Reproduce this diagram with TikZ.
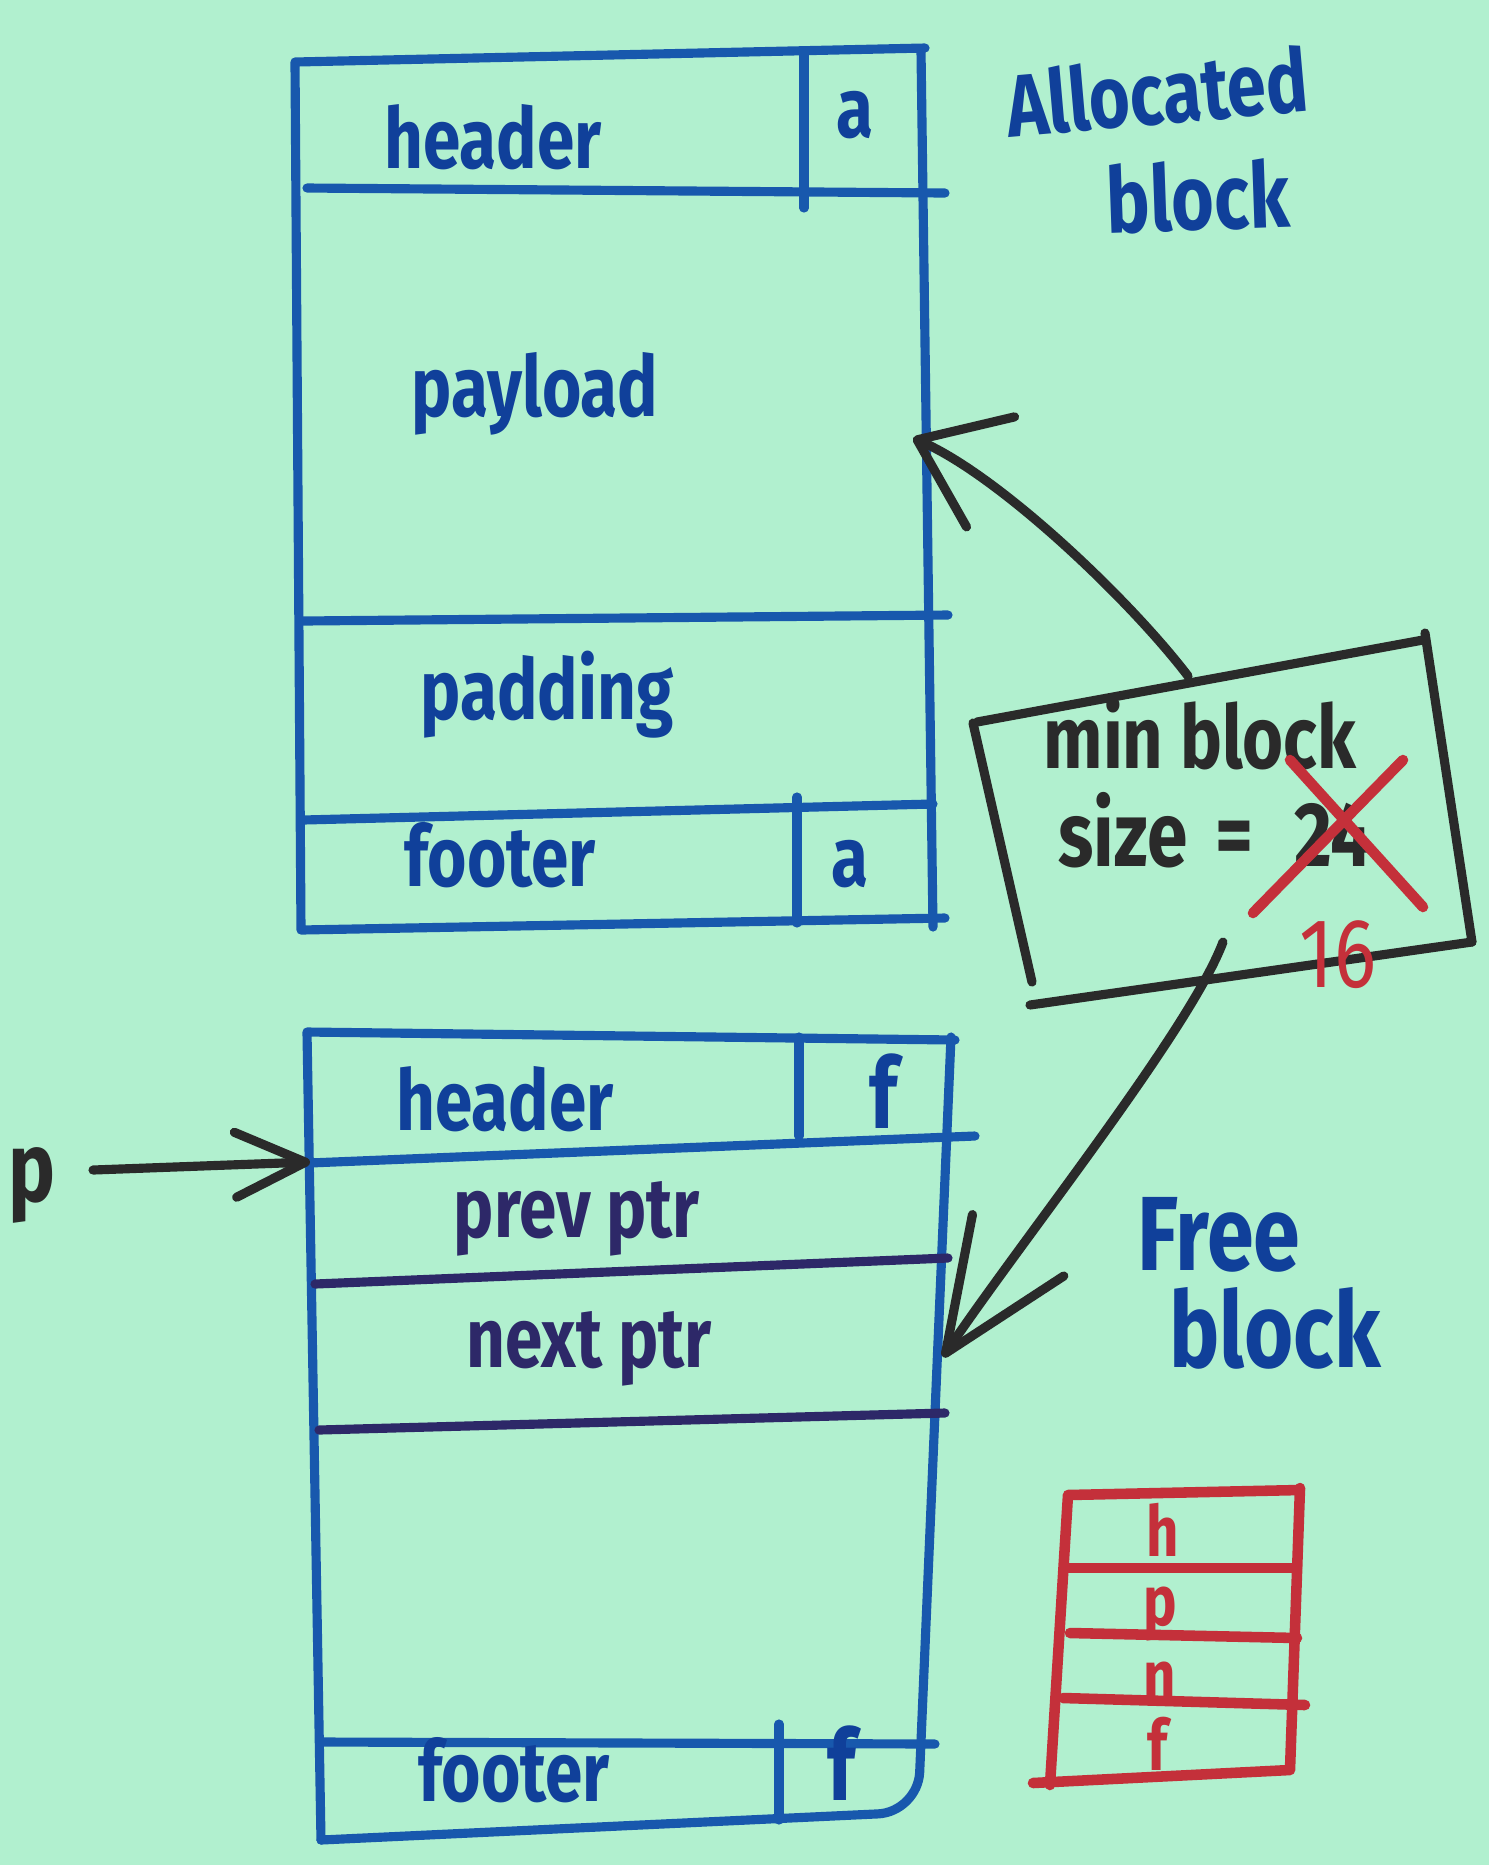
\documentclass[tikz,border=0pt]{standalone}
\usepackage{fontspec}
\setmainfont{Fira Sans}[FakeStretch=0.8]
\usetikzlibrary{arrows.meta}
\definecolor{paper}{HTML}{B1F0CF}
\definecolor{inkblue}{HTML}{1858AD}
\definecolor{textblue}{HTML}{10409A}
\definecolor{inkpurple}{HTML}{2D2868}
\definecolor{inkblack}{HTML}{2A2A2A}
\definecolor{inkred}{HTML}{C4303A}

\begin{document}
\begin{tikzpicture}[x=0.01cm,y=-0.01cm]
\tikzset{
  blockline/.style={draw=inkblue,line width=2.6pt,line cap=round,line join=round},
  ptrline/.style={draw=inkpurple,line width=2.6pt,line cap=round},
  boxline/.style={draw=inkblack,line width=2.6pt,line cap=round,line join=round},
  redline/.style={draw=inkred,line width=3pt,line cap=round,line join=round},
  handtext/.style={anchor=base,inner sep=0pt,font=\bfseries\fontsize{24}{26}\selectfont},
  bluetext/.style={handtext,text=textblue},
  bigtext/.style={bluetext,font=\bfseries\fontsize{30}{32}\selectfont},
  flagtext/.style={bluetext,font=\bfseries\fontsize{28}{30}\selectfont},
  ptrtext/.style={handtext,text=inkpurple},
  blacktext/.style={handtext,text=inkblack},
  redtext/.style={handtext,text=inkred,font=\bfseries\fontsize{20}{22}\selectfont},
  pointer/.style={boxline,fill=none}
}
\fill[paper] (0,0) rectangle (1489,1865);

\draw[blockline] (925,48) -- (295,62) -- (301,930) -- (945,918);
\draw[blockline] (921,50) -- (933,927);
\draw[blockline] (307,188) -- (945,193);
\draw[blockline] (804,54) -- (804,208);
\draw[blockline] (303,621) -- (948,615);
\draw[blockline] (303,820) -- (933,804);
\draw[blockline] (797,797) -- (797,923);
\node[bluetext] (a_header) at (493,168) {header};
\node[bluetext] (a_hflag) at (855,137) {a};
\node[bluetext] (a_payload) at (535,416) {payload};
\node[bluetext] (a_padding) at (547,719) {padding};
\node[bluetext] (a_footer) at (500,886) {footer};
\node[bluetext] (a_fflag) at (850,886) {a};
\node[bluetext,font=\bfseries\fontsize{25}{27}\selectfont,rotate=5] (l_alloc) at (1160,124) {Allocated};
\node[bluetext,font=\bfseries\fontsize{26}{28}\selectfont,rotate=2] (l_ablock) at (1199,230) {block};

\draw[blockline] (955,1040) -- (307,1032) -- (321,1840);
\draw[blockline,rounded corners=4mm] (951,1037) -- (918,1812) -- (321,1840);
\draw[blockline] (309,1163) -- (975,1136);
\draw[blockline] (799,1037) -- (799,1136);
\draw[ptrline] (315,1284) -- (948,1258);
\draw[ptrline] (319,1430) -- (945,1413);
\draw[blockline] (321,1742) -- (935,1744);
\draw[blockline] (779,1724) -- (779,1820);
\node[bluetext] (f_header) at (505,1130) {header};
\node[flagtext] (f_hflag) at (884,1128) {f};
\node[ptrtext] (f_prev) at (577,1237) {prev ptr};
\node[ptrtext] (f_next) at (589,1367) {next ptr};
\node[bluetext] (f_footer) at (514,1801) {footer};
\node[flagtext] (f_fflag) at (842,1800) {f};
\node[bigtext] (l_free) at (1219,1270) {Free};
\node[bigtext] (l_fblock) at (1275,1367) {block};

\node[blacktext,font=\bfseries\fontsize{28}{30}\selectfont] (p_label) at (32,1201) {p};
\coordinate (p_tail) at (93,1170);
\coordinate (f_hdrleft) at (310,1162);
\draw[pointer,-{Straight Barb[length=7mm,width=6.5mm,round]}] (p_tail) -- (f_hdrleft);

\draw[boxline] (977,722) -- (1423,640);
\draw[boxline] (1425,633) -- (1472,942);
\draw[boxline] (1472,942) -- (1030,1005);
\draw[boxline] (973,723) -- (1032,982);
\node[blacktext,font=\bfseries\fontsize{25}{27}\selectfont] (minblock) at (1200,768) {min block};
\node[blacktext,font=\bfseries\fontsize{26}{28}\selectfont] (minsize) at (1215,866) {size\hspace{0.3em}=\hspace{0.45em}24};
\draw[redline] (1290,760) -- (1423,907);
\draw[redline] (1403,760) -- (1253,913);
\node[redtext,font=\fontsize{28}{30}\selectfont] (newsize) at (1338,987) {16};

\coordinate (box_top) at (1188,676);
\coordinate (box_bottom) at (1223,942);
\coordinate (a_payloadright) at (913,438);
\coordinate (f_nextright) at (943,1357);
\draw[pointer,-{Straight Barb[length=8mm,width=12mm,round]}] (box_top) .. controls (1130,600) and (1000,476) .. (a_payloadright);
\draw[pointer,-{Straight Barb[length=13mm,width=11mm,round]}] (box_bottom) .. controls (1190,1030) and (1021,1241) .. (f_nextright);

\draw[redline] (1300,1490) -- (1068,1495) -- (1050,1785);
\draw[redline] (1300,1488) -- (1290,1770) -- (1033,1783);
\draw[redline] (1068,1568) -- (1297,1568);
\draw[redline] (1070,1633) -- (1297,1638);
\draw[redline] (1063,1698) -- (1305,1705);
\node[redtext] (r_h) at (1163,1556) {h};
\node[redtext] (r_p) at (1160,1625) {p};
\node[redtext] (r_n) at (1160,1700) {n};
\node[redtext] (r_f) at (1158,1770) {f};
\end{tikzpicture}
\end{document}
